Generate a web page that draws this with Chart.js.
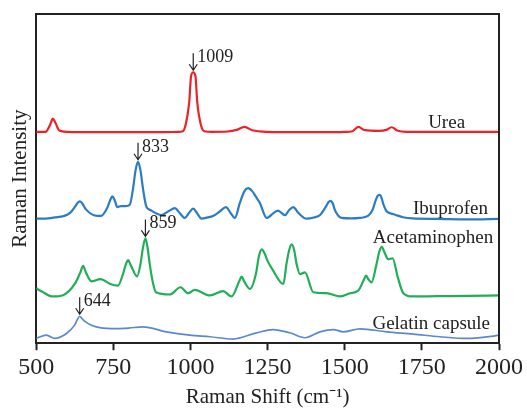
<!DOCTYPE html>
<html>
<head>
<meta charset="utf-8">
<script src="https://cdn.jsdelivr.net/npm/chart.js@4.4.1/dist/chart.umd.min.js"></script>
<style>
    html, body { margin: 0; padding: 0; background: #ffffff; }
    #box { width: 527px; height: 410px; }
</style>
</head>
<body>
<div id="box"><canvas id="ramanChart"></canvas></div>
<script>
// spectra (stacked, arbitrary intensity units)
const ureaShift = [500, 530, 545, 554, 563, 575, 600, 700, 800, 900, 960, 975, 985, 996, 1002, 1009, 1016, 1022, 1033, 1045, 1070, 1120, 1150, 1175, 1200, 1250, 1350, 1450, 1500, 1525, 1544, 1565, 1610, 1635, 1652, 1670, 1700, 1800, 1900, 2000];
const ureaInt = [64.2, 64.2, 66.3, 68.2, 66.8, 64.6, 64.2, 64.1, 64.1, 64.1, 64.2, 64.4, 66.6, 73.2, 81.2, 82.3, 81.2, 73.2, 66.6, 64.4, 64.2, 64.3, 64.8, 65.7, 64.7, 64.2, 64.1, 64.1, 64.2, 64.4, 65.7, 64.7, 64.5, 64.8, 65.6, 64.6, 64.2, 64.2, 64.2, 64.2];

const ibuShift = [500, 530, 560, 590, 610, 626, 634, 641, 649, 660, 690, 710, 730, 740, 747, 754, 763, 775, 790, 803, 814, 822, 830, 838, 846, 857, 870, 890, 906, 930, 949, 965, 982, 995, 1009, 1022, 1036, 1055, 1073, 1095, 1115, 1130, 1144, 1160, 1175, 1187, 1200, 1212, 1225, 1247, 1270, 1284, 1295, 1306, 1320, 1333, 1350, 1376, 1400, 1420, 1440, 1447, 1454, 1461, 1468, 1490, 1520, 1549, 1575, 1590, 1600, 1606, 1612, 1618, 1626, 1635, 1650, 1663, 1689, 1720, 1800, 1900, 2000];
const ibuInt = [37.84, 37.84, 38.2, 38.65, 39.6, 41.5, 42.6, 43.07, 42.5, 40.8, 38.8, 38.65, 41.06, 43.5, 44.58, 43.5, 41.36, 41.66, 41.66, 42.0, 47.0, 52.5, 55.11, 52.5, 47.0, 41.5, 40.46, 39.41, 38.95, 40.16, 41.06, 39.56, 38.05, 39.56, 40.85, 39.41, 37.84, 38.2, 38.65, 40.0, 41.36, 39.56, 38.05, 42.6, 46.2, 47.08, 46.2, 44.5, 42.6, 38.05, 39.6, 40.25, 39.56, 38.86, 40.46, 41.36, 39.56, 37.84, 38.2, 38.95, 41.66, 42.8, 43.26, 42.5, 40.46, 38.05, 37.9, 38.05, 38.65, 40.46, 43.3, 44.7, 45.06, 44.5, 42.0, 40.16, 39.41, 39.04, 38.26, 37.9, 37.75, 37.6, 37.75];

const acetShift = [500, 520, 554, 587, 625, 643, 652, 661, 679, 708, 740, 765, 782, 790, 798, 806, 827, 838, 846, 854, 861, 868, 878, 888, 933, 968, 992, 1014, 1063, 1106, 1133, 1158, 1166, 1174, 1193, 1212, 1222, 1231, 1240, 1250, 1268, 1301, 1311, 1320, 1328, 1336, 1344, 1355, 1371, 1398, 1441, 1484, 1517, 1544, 1562, 1569, 1576, 1587, 1603, 1612, 1620, 1628, 1641, 1655, 1672, 1690, 1720, 1800, 1900, 2000];
const acetInt = [16.69, 15.6, 14.2, 14.59, 17.99, 21.5, 23.52, 21.5, 18.8, 19.49, 18.0, 17.51, 21.21, 23.8, 25.21, 23.8, 20.3, 24.0, 29.0, 31.82, 29.0, 24.0, 18.5, 15.49, 14.8, 17.0, 15.19, 16.18, 14.5, 15.79, 14.2, 18.8, 20.21, 18.8, 16.48, 21.0, 26.5, 28.5, 27.3, 25.0, 22.02, 17.99, 24.0, 28.3, 30.02, 28.3, 24.0, 21.0, 21.51, 15.49, 15.19, 14.2, 15.19, 16.0, 19.3, 20.51, 19.5, 18.5, 24.0, 27.8, 29.24, 27.8, 25.51, 25.81, 20.0, 15.19, 14.2, 14.29, 14.35, 14.5];

const gelShift = [500, 533, 560, 598, 625, 634, 641, 648, 660, 679, 706, 760, 800, 846, 922, 998, 1063, 1138, 1214, 1268, 1322, 1371, 1420, 1463, 1495, 1549, 1636, 1722, 1809, 1895, 1982, 2000];
const gelInt = [1.44, 2.47, 1.44, 2.95, 5.56, 7.3, 8.18, 7.5, 6.47, 5.47, 4.75, 4.45, 4.6, 4.96, 3.46, 2.47, 1.96, 1.26, 3.16, 4.15, 3.16, 1.65, 3.46, 4.15, 3.46, 4.36, 3.46, 2.77, 1.96, 1.44, 2.17, 2.47];

const seriesNames = ['Urea', 'Ibuprofen', 'Acetaminophen', 'Gelatin capsule'];
const xTicks = [500, 750, 1000, 1250, 1500, 1750, 2000];

// marked peaks
const peakLabels = ['1009', '833', '859', '644'];
const peakShift = [1009, 830, 854, 641];
const peakTop = [82.3, 55.11, 31.82, 8.18];

const FONT = "'Liberation Serif', 'Times New Roman', serif";
const INK = '#222222';

function toPoints(xs, ys) {
    return xs.map((x, i) => ({ x: x, y: ys[i] }));
}

// where the series names sit (right edge, in data units)
const nameAnchor = [
    { x: 1890, y: 66.9 },
    { x: 1964, y: 40.8 },
    { x: 1981, y: 32.0 },
    { x: 1971, y: 5.9 }
];

const annotations = {
    id: 'annotations',
    afterDatasetsDraw(chart) {
        const ctx = chart.ctx;
        const xs = chart.scales.x;
        const ys = chart.scales.y;
        const area = chart.chartArea;
        ctx.save();

        // top and right frame
        ctx.strokeStyle = INK;
        ctx.lineWidth = 2;
        ctx.beginPath();
        ctx.moveTo(area.left, area.top);
        ctx.lineTo(area.right, area.top);
        ctx.lineTo(area.right, area.bottom);
        ctx.stroke();

        // peak arrows
        ctx.lineWidth = 1.2;
        ctx.fillStyle = INK;
        ctx.font = '18px ' + FONT;
        ctx.textAlign = 'left';
        ctx.textBaseline = 'alphabetic';
        for (let i = 0; i < peakLabels.length; i++) {
            const px = xs.getPixelForValue(peakShift[i]);
            const tip = ys.getPixelForValue(peakTop[i]) - 2;
            ctx.beginPath();
            ctx.moveTo(px, tip - 17);
            ctx.lineTo(px, tip);
            ctx.moveTo(px - 4, tip - 6);
            ctx.lineTo(px, tip);
            ctx.lineTo(px + 4, tip - 6);
            ctx.stroke();
            ctx.fillText(peakLabels[i], px + 4, tip - 8);
        }

        // series names
        ctx.font = '19px ' + FONT;
        ctx.textAlign = 'right';
        ctx.textBaseline = 'middle';
        for (let i = 0; i < seriesNames.length; i++) {
            ctx.fillText(seriesNames[i], xs.getPixelForValue(nameAnchor[i].x), ys.getPixelForValue(nameAnchor[i].y));
        }
        ctx.restore();
    }
};

const ctx = document.getElementById('ramanChart').getContext('2d');

const data = {
    datasets: [
        { label: seriesNames[0], data: toPoints(ureaShift, ureaInt), borderColor: '#ec2227', borderWidth: 2.2 },
        { label: seriesNames[1], data: toPoints(ibuShift, ibuInt), borderColor: '#2b7cc4', borderWidth: 2.2 },
        { label: seriesNames[2], data: toPoints(acetShift, acetInt), borderColor: '#22ae58', borderWidth: 2.2 },
        { label: seriesNames[3], data: toPoints(gelShift, gelInt), borderColor: '#5a89cf', borderWidth: 1.7 }
    ]
};

const options = {
    responsive: true,
    maintainAspectRatio: false,
    animation: false,
    devicePixelRatio: 1,
    layout: { padding: { top: 14, right: 28, left: 0, bottom: 0 } },
    elements: {
        point: { radius: 0 },
        line: { cubicInterpolationMode: 'monotone', fill: false }
    },
    plugins: {
        legend: { display: false },
        tooltip: { enabled: false }
    },
    scales: {
        x: {
            type: 'linear',
            min: 500,
            max: 2000,
            afterBuildTicks: (scale) => { scale.ticks = xTicks.map(v => ({ value: v })); },
            grid: {
                drawOnChartArea: false,
                drawTicks: true,
                tickLength: 7,
                tickWidth: 2,
                tickColor: INK
            },
            border: { color: INK, width: 2 },
            ticks: {
                color: INK,
                padding: 3,
                font: { family: FONT, size: 24 },
                callback: (v) => String(v)
            },
            title: {
                display: true,
                text: 'Raman Shift (cm\u207B\u00B9)',
                color: INK,
                font: { family: FONT, size: 21, lineHeight: 1 },
                padding: { top: 2, bottom: 2 }
            }
        },
        y: {
            min: 0,
            max: 100,
            grid: { drawOnChartArea: false, drawTicks: false },
            border: { color: INK, width: 2 },
            ticks: { display: false },
            title: {
                display: true,
                text: 'Raman Intensity',
                color: INK,
                font: { family: FONT, size: 21 },
                padding: { top: 8, bottom: 3 }
            }
        }
    }
};

new Chart(ctx, {
    type: 'line',
    data: data,
    options: options,
    plugins: [annotations]
});
</script>
</body>
</html>
